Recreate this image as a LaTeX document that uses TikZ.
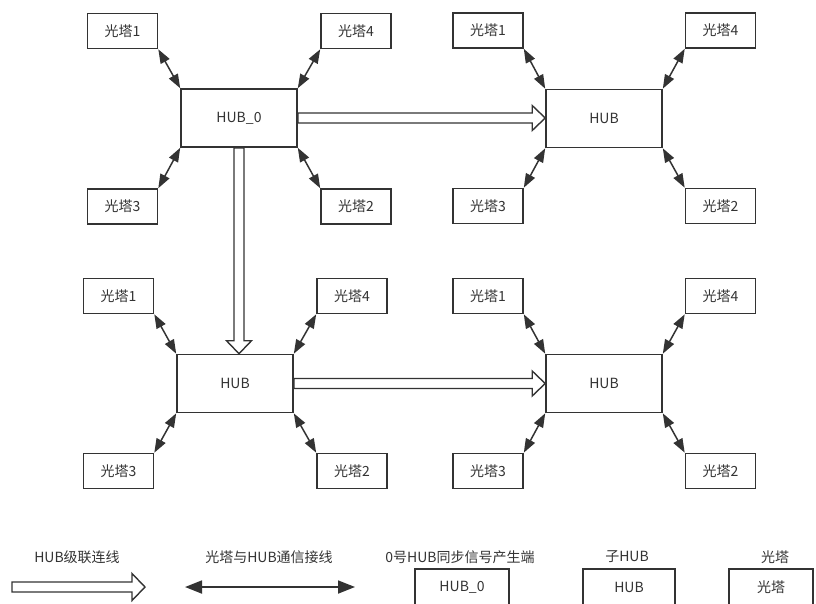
\documentclass[tikz,border=0pt]{standalone}
\usepackage{fontspec}
\newfontfamily\cjkfont{Noto Sans CJK SC}
\usetikzlibrary{arrows.meta,calc}
\definecolor{ink}{HTML}{333333}
\begin{document}
\begin{tikzpicture}[x=1pt,y=-1pt,
  txt/.style={text=ink, font=\cjkfont\fontsize{14}{16}\selectfont, inner sep=0pt},
  box/.style={txt, draw=ink, line width=1.6pt, fill=white},
  tower/.style={box, minimum width=70pt, minimum height=35pt},
  hub/.style={box, minimum width=116pt, minimum height=58pt},
  link/.style={ink, line width=1.5pt, {Triangle[length=14pt,width=10pt]}-{Triangle[length=14pt,width=10pt]}},
  biglink/.style={ink, line width=1.8pt, {Triangle[length=17pt,width=13pt]}-{Triangle[length=17pt,width=13pt]}},
  casc/.style={draw=ink, line width=1.4pt, fill=white, line join=miter}
]
\useasboundingbox (0,0) rectangle (816,603);
\clip (0,0) rectangle (816,603);

% ---------- top-left group ----------
\node[hub]   (h0)  at (239,118)   {HUB\_0};
\node[tower] (a1)  at (122.5,31)  {光塔1};
\node[tower] (a4)  at (356,31)    {光塔4};
\node[tower] (a3)  at (122.5,206.5) {光塔3};
\node[tower] (a2)  at (356,206.5) {光塔2};
% ---------- top-right group ----------
\node[hub]   (h1)  at (604,118.5) {HUB};
\node[tower] (b1)  at (488,30.5)  {光塔1};
\node[tower] (b4)  at (720.5,30.5) {光塔4};
\node[tower] (b3)  at (488,206)   {光塔3};
\node[tower] (b2)  at (720.5,206) {光塔2};
% ---------- bottom-left group ----------
\node[hub]   (h2)  at (235,383.5) {HUB};
\node[tower] (c1)  at (118.5,296) {光塔1};
\node[tower] (c4)  at (352,296)   {光塔4};
\node[tower] (c3)  at (118.5,471) {光塔3};
\node[tower] (c2)  at (352,471)   {光塔2};
% ---------- bottom-right group ----------
\node[hub]   (h3)  at (604,383.5) {HUB};
\node[tower] (d1)  at (488,296)   {光塔1};
\node[tower] (d4)  at (720.5,296) {光塔4};
\node[tower] (d3)  at (488,471)   {光塔3};
\node[tower] (d2)  at (720.5,471) {光塔2};

% ---------- tower links ----------
\foreach \g/\h in {a/h0,b/h1,c/h2,d/h3}{
  \draw[link] (\g1.south east) -- (\h.north west);
  \draw[link] (\g4.south west) -- (\h.north east);
  \draw[link] (\g3.north east) -- (\h.south west);
  \draw[link] (\g2.north west) -- (\h.south east);
}

% ---------- cascade arrows ----------
\draw[casc] let \p1=(h0.east), \p2=(h1.west) in
  (\x1,\y1+5) -- (\x2-13,\y1+5) -- (\x2-13,\y1+12.5) -- (\x2,\y1)
  -- (\x2-13,\y1-12.5) -- (\x2-13,\y1-5) -- (\x1,\y1-5) -- cycle;
\draw[casc] let \p1=(h2.east), \p2=(h3.west) in
  (\x1,\y1+5) -- (\x2-13,\y1+5) -- (\x2-13,\y1+12.5) -- (\x2,\y1)
  -- (\x2-13,\y1-12.5) -- (\x2-13,\y1-5) -- (\x1,\y1-5) -- cycle;
\draw[casc] let \p1=(h0.south), \p2=(h2.north) in
  (\x1-5,\y1) -- (\x1-5,\y2+13) -- (\x1-12.5,\y2+13) -- (\x1,\y2)
  -- (\x1+12.5,\y2+13) -- (\x1+5,\y2+13) -- (\x1+5,\y1) -- cycle;

% ---------- legend ----------
\node[txt] (l1) at (77,557)  {HUB级联连线};
\node[txt] (l2) at (269,557) {光塔与HUB通信接线};
\node[txt] (l3) at (460,557) {0号HUB同步信号产生端};
\node[txt] (l4) at (627,557) {子HUB};
\node[txt] (l5) at (775,557) {光塔};

\coordinate (ca) at (12,587);
\coordinate (cb) at (145,587);
\draw[casc] let \p1=(ca), \p2=(cb) in
  (\x1,\y1+5) -- (\x2-13,\y1+5) -- (\x2-13,\y1+13.5) -- (\x2,\y1)
  -- (\x2-13,\y1-13.5) -- (\x2-13,\y1-5) -- (\x1,\y1-5) -- cycle;

\coordinate (da) at (185,587);
\coordinate (db) at (355,587);
\draw[biglink] (da) -- (db);

\node[box, minimum width=94pt, minimum height=37pt] (k1) at (462,587.5) {HUB\_0};
\node[box, minimum width=92pt, minimum height=37pt] (k2) at (629,587.5) {HUB};
\node[box, minimum width=84pt, minimum height=37pt] (k3) at (771,587.5) {光塔};
\end{tikzpicture}
\end{document}
